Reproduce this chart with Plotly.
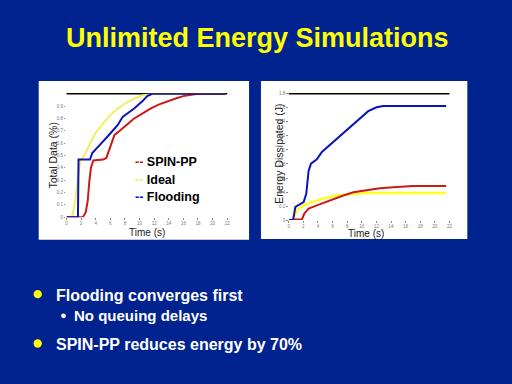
import plotly.graph_objects as go

W, H = 512, 384
def px(x): return x / W
def py(y): return 1 - y / H

# ---------------- data ----------------
# Left: Total Data (fraction) vs Time (s)
ideal_t = [0, 0.76, 1.21, 1.65, 1.97, 2.55, 3.22, 3.89, 4.79, 5.9, 7.02, 8.14, 9.26, 10.38, 11.27, 21.8]
ideal_d = [0, 0, 0.133, 0.373, 0.467, 0.512, 0.6, 0.672, 0.747, 0.821, 0.88, 0.925, 0.96, 0.987, 1.0, 1.0]

flood_t = [0, 1.57, 1.65, 3.22, 3.53, 4.11, 4.79, 5.9, 7.02, 7.69, 8.59, 9.26, 10.38, 11.05, 11.72, 21.8]
flood_d = [0, 0, 0.467, 0.467, 0.52, 0.555, 0.6, 0.672, 0.747, 0.813, 0.853, 0.88, 0.939, 0.981, 1.0, 1.0]

spin_t = [0, 2.24, 2.64, 2.91, 3.13, 3.35, 3.67, 5.01, 5.46, 6.04, 6.57, 7.25, 8.14, 9.26, 10.38,
          11.49, 12.61, 13.73, 14.85, 15.97, 17.08, 17.98, 21.8]
spin_d = [0, 0, 0.04, 0.133, 0.293, 0.4, 0.459, 0.467, 0.48, 0.587, 0.667, 0.699, 0.747, 0.8, 0.84,
          0.88, 0.912, 0.939, 0.96, 0.981, 0.992, 1.0, 1.0]

# Right: Energy Dissipated (J) vs Time (s)
flood_et = [0, 0.59, 0.91, 1.59, 2.04, 2.4, 2.72, 3.04, 3.85, 4.54, 5.67, 7.03, 8.39, 9.75, 10.88, 12.02, 12.93, 21.54]
flood_e = [0, 0, 0.187, 0.224, 0.257, 0.374, 0.701, 0.804, 0.865, 0.972, 1.075, 1.206, 1.332, 1.459, 1.552, 1.608, 1.627, 1.627]

ideal_et = [0.59, 0.91, 1.36, 2.04, 3.17, 4.31, 5.44, 6.58, 7.94, 9.75, 11.56, 21.54]
ideal_e = [0, 0.094, 0.164, 0.21, 0.257, 0.295, 0.327, 0.351, 0.369, 0.383, 0.388, 0.388]

spin_et = [0.59, 1.81, 2.13, 2.72, 3.85, 4.99, 6.12, 7.48, 8.84, 10.66, 12.47, 14.29, 16.1, 17.0, 21.54]
spin_e = [0.01, 0.01, 0.094, 0.164, 0.21, 0.257, 0.304, 0.351, 0.397, 0.43, 0.454, 0.468, 0.482, 0.486, 0.486]

x_ticks = [0, 2, 4, 6, 8, 10, 12, 14, 16, 18, 20, 22]
left_yticks = [0, 0.1, 0.2, 0.3, 0.4, 0.5, 0.6, 0.7, 0.8, 0.9]
right_yticks = [0, 0.2, 0.4, 0.6, 0.8, 1.0, 1.2, 1.4, 1.6, 1.8]

series_names = ["SPIN-PP", "Ideal", "Flooding"]
RED = "rgb(205,25,25)"
YEL_L = "rgb(240,240,90)"
YEL = "rgb(255,255,30)"
BLUE = "rgb(10,20,185)"
BG = "#00238f"

fig = go.Figure()
fig.add_trace(go.Scatter(x=ideal_t, y=ideal_d, mode="lines", line=dict(color=YEL_L, width=2), xaxis="x", yaxis="y"))
fig.add_trace(go.Scatter(x=spin_t, y=spin_d, mode="lines", line=dict(color=RED, width=2), xaxis="x", yaxis="y"))
fig.add_trace(go.Scatter(x=flood_t, y=flood_d, mode="lines", line=dict(color=BLUE, width=2), xaxis="x", yaxis="y"))

fig.add_trace(go.Scatter(x=ideal_et, y=ideal_e, mode="lines", line=dict(color=YEL, width=2.5), xaxis="x2", yaxis="y2"))
fig.add_trace(go.Scatter(x=spin_et, y=spin_e, mode="lines", line=dict(color=RED, width=2), xaxis="x2", yaxis="y2"))
fig.add_trace(go.Scatter(x=flood_et, y=flood_e, mode="lines", line=dict(color=BLUE, width=2), xaxis="x2", yaxis="y2"))

tickfont = dict(size=4.5, color="#777777", family="Liberation Sans, Arial")
common = dict(showgrid=False, zeroline=False, showline=False, ticks="outside", ticklen=1.5,
              tickcolor="#888888", tickfont=tickfont, fixedrange=True)

fig.update_layout(
    width=W, height=H, autosize=False,
    margin=dict(l=0, r=0, t=0, b=0),
    paper_bgcolor=BG, plot_bgcolor="white",
    showlegend=False,
    xaxis=dict(domain=[px(66), px(228)], range=[0, 22], tickvals=x_ticks, anchor="y", **common),
    yaxis=dict(domain=[py(218), py(93)], range=[0, 1.0], tickvals=left_yticks, anchor="x", **common),
    xaxis2=dict(domain=[px(290), px(452)], range=[0, 22], tickvals=x_ticks, anchor="y2", **common),
    yaxis2=dict(domain=[py(221), py(93)], range=[0, 1.8], tickvals=right_yticks, anchor="x2", **common),
)

shapes = []
# white panels
shapes.append(dict(type="rect", xref="paper", yref="paper", x0=px(38), x1=px(250), y0=py(241), y1=py(80),
                   fillcolor="white", line=dict(width=0), layer="below"))
shapes.append(dict(type="rect", xref="paper", yref="paper", x0=px(262), x1=px(470), y0=py(240), y1=py(80),
                   fillcolor="white", line=dict(width=0), layer="below"))
# top frame lines
for xr, yr in (("x", "y"), ("x2", "y2")):
    shapes.append(dict(type="line", xref=xr + " domain", yref=yr + " domain", x0=0, x1=1, y0=1, y1=1,
                       line=dict(color="black", width=1.5), layer="below"))
# bullets
def circle(cx, cy, r, color):
    return dict(type="circle", xref="paper", yref="paper", x0=px(cx - r), x1=px(cx + r),
                y0=py(cy + r), y1=py(cy - r), fillcolor=color, line=dict(width=0))
shapes.append(circle(37, 296, 4.2, "#ffff00"))
shapes.append(circle(37, 346, 4.2, "#ffff00"))
shapes.append(circle(63, 318, 2.4, "white"))
fig.update_layout(shapes=shapes)

ann = []
F = "Liberation Sans, Arial, sans-serif"
FN = "Liberation Sans Narrow, Liberation Sans, Arial, sans-serif"
ann.append(dict(text="<b>Unlimited Energy Simulations</b>", x=px(258.5), y=py(36), xref="paper", yref="paper",
                xanchor="center", yanchor="middle", showarrow=False, font=dict(family=F, size=27, color="#ffff00")))
ann.append(dict(text="<b>Flooding converges first</b>", x=px(53), y=py(297), xref="paper", yref="paper",
                xanchor="left", yanchor="middle", showarrow=False, font=dict(family=F, size=16, color="white")))
ann.append(dict(text="<b>No queuing delays</b>", x=px(72), y=py(318), xref="paper", yref="paper",
                xanchor="left", yanchor="middle", showarrow=False, font=dict(family=F, size=15, color="white")))
ann.append(dict(text="<b>SPIN-PP reduces energy by 70%</b>", x=px(53), y=py(347), xref="paper", yref="paper",
                xanchor="left", yanchor="middle", showarrow=False, font=dict(family=F, size=16, color="white")))

# legend (left chart)
leg_colors = [RED, YEL_L, BLUE]
for i, (name, col) in enumerate(zip(series_names, leg_colors)):
    ann.append(dict(text=f"<b><span style='color:{col}'>--</span> {name}</b>", x=px(133), y=py(162 + 18 * i),
                    xref="paper", yref="paper", xanchor="left", yanchor="middle", showarrow=False,
                    font=dict(family=F, size=12.5, color="black")))

# axis titles
ann.append(dict(text="Total Data (%)", x=px(52), y=py(155), xref="paper", yref="paper", textangle=-90,
                xanchor="center", yanchor="middle", showarrow=False, font=dict(family=FN, size=10.5, color="#222222")))
ann.append(dict(text="Time (s)", x=px(147), y=py(234), xref="paper", yref="paper",
                xanchor="center", yanchor="middle", showarrow=False, font=dict(family=FN, size=10, color="#222222")))
ann.append(dict(text="Energy Dissipated (J)", x=px(280), y=py(154), xref="paper", yref="paper", textangle=-90,
                xanchor="center", yanchor="middle", showarrow=False, font=dict(family=FN, size=10.5, color="#222222")))
ann.append(dict(text="Time (s)", x=px(368), y=py(234.5), xref="paper", yref="paper",
                xanchor="center", yanchor="middle", showarrow=False, font=dict(family=FN, size=10, color="#222222")))
fig.update_layout(annotations=ann)

fig.write_html("out.html", config={"displayModeBar": False},
               post_script="document.body.style.margin='0';document.body.style.overflow='hidden';")
